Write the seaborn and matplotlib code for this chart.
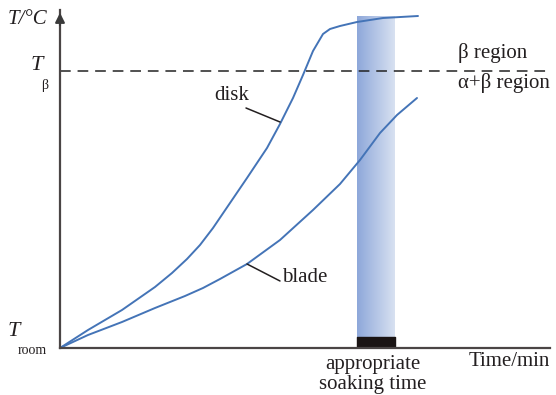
import numpy as np
import pandas as pd
import seaborn as sns
import matplotlib.pyplot as plt
from matplotlib.colors import LinearSegmentedColormap

# curves (time, temperature in arbitrary units)
disk_t = [0, 28, 62, 95, 112, 127, 140, 153, 170, 187, 207, 220, 233, 243, 253,
          263, 270, 280, 297, 323, 358]
disk_T = [0, 18, 38, 61, 75, 89, 103, 120, 145, 170, 200, 224, 250, 273, 297,
          314, 319, 322, 326, 330, 332]
blade_t = [0, 28, 62, 95, 125, 143, 160, 187, 220, 253, 280, 300, 320, 337, 357]
blade_T = [0, 13, 26, 40, 52, 60, 69, 84, 108, 138, 164, 188, 215, 233, 250]

T_beta = 277
soak_start, soak_end = 297, 335
T_top = 332

disk = pd.DataFrame({"time": disk_t, "temp": disk_T})
blade = pd.DataFrame({"time": blade_t, "temp": blade_T})

sns.set_style("white")
plt.rcParams["font.family"] = ["Liberation Serif", "DejaVu Serif"]

fig = plt.figure(figsize=(5.56, 3.95), dpi=100)
ax = fig.add_axes([60/556, 47/395, 490/556, 338/395])
ax.set_xlim(0, 490)
ax.set_ylim(0, 338)

line_col = "#4474b7"
sns.lineplot(data=disk, x="time", y="temp", ax=ax, color=line_col, lw=1.4, sort=False)
sns.lineplot(data=blade, x="time", y="temp", ax=ax, color=line_col, lw=1.4, sort=False)

# soaking band with gradient
cmap = LinearSegmentedColormap.from_list("band", ["#8ea8da", "#d8e1f1"])
grad = np.linspace(0, 1, 100).reshape(1, -1)
ax.imshow(grad, cmap=cmap, aspect="auto", extent=[soak_start, soak_end, 0, T_top],
          zorder=0)
ax.fill_between([soak_start, soak_end], 0, 11, color="#1a1414", zorder=1)

# beta transus
ax.axhline(T_beta, color="#222222", lw=1.1, ls=(0, (7, 4.5)))

# axes styling
for s in ["top", "right"]:
    ax.spines[s].set_visible(False)
for s in ["left", "bottom"]:
    ax.spines[s].set_color("#4a4545")
    ax.spines[s].set_linewidth(1.6)
ax.set_xticks([])
ax.set_yticks([])
ax.set_xlabel("")
ax.set_ylabel("")
ax.annotate("", xy=(0, 338), xytext=(0, 320), annotation_clip=False,
            arrowprops=dict(arrowstyle="-|>", color="#3a3a3a", lw=1.5,
                            mutation_scale=14))

fs = 15
tc = "#231f20"
kw = dict(color=tc, clip_on=False)
ax.text(-13, 328, "T/°C", ha="right", va="center", fontsize=fs, style="italic", **kw)
ax.text(-17, 283, "T", ha="right", va="center", fontsize=fs + 1, style="italic", **kw)
ax.text(-12, 262, "β", ha="right", va="center", fontsize=10, **kw)
ax.text(-40, 17, "T", ha="right", va="center", fontsize=fs + 1, style="italic", **kw)
ax.text(-13, -2, "room", ha="right", va="center", fontsize=10, **kw)
ax.text(490, -14, "Time/min", ha="right", va="center", fontsize=fs, **kw)
ax.text(313, -17, "appropriate", ha="center", va="center", fontsize=fs, **kw)
ax.text(313, -37, "soaking time", ha="center", va="center", fontsize=fs, **kw)
ax.text(398, 295, "β region", ha="left", va="center", fontsize=fs, **kw)
ax.text(398, 265, "α+β region", ha="left", va="center", fontsize=fs, **kw)

# labels with leader lines
ax.text(172, 252, "disk", ha="center", va="center", fontsize=fs, **kw)
ax.annotate("", xy=(220, 226), xytext=(186, 240),
            arrowprops=dict(arrowstyle="-", color=tc, lw=1.1, shrinkA=0, shrinkB=0))
ax.text(222, 70, "blade", ha="left", va="center", fontsize=fs, **kw)
ax.annotate("", xy=(187, 84), xytext=(220, 67),
            arrowprops=dict(arrowstyle="-", color=tc, lw=1.1, shrinkA=0, shrinkB=0))

fig.savefig("out.png", dpi=100)
